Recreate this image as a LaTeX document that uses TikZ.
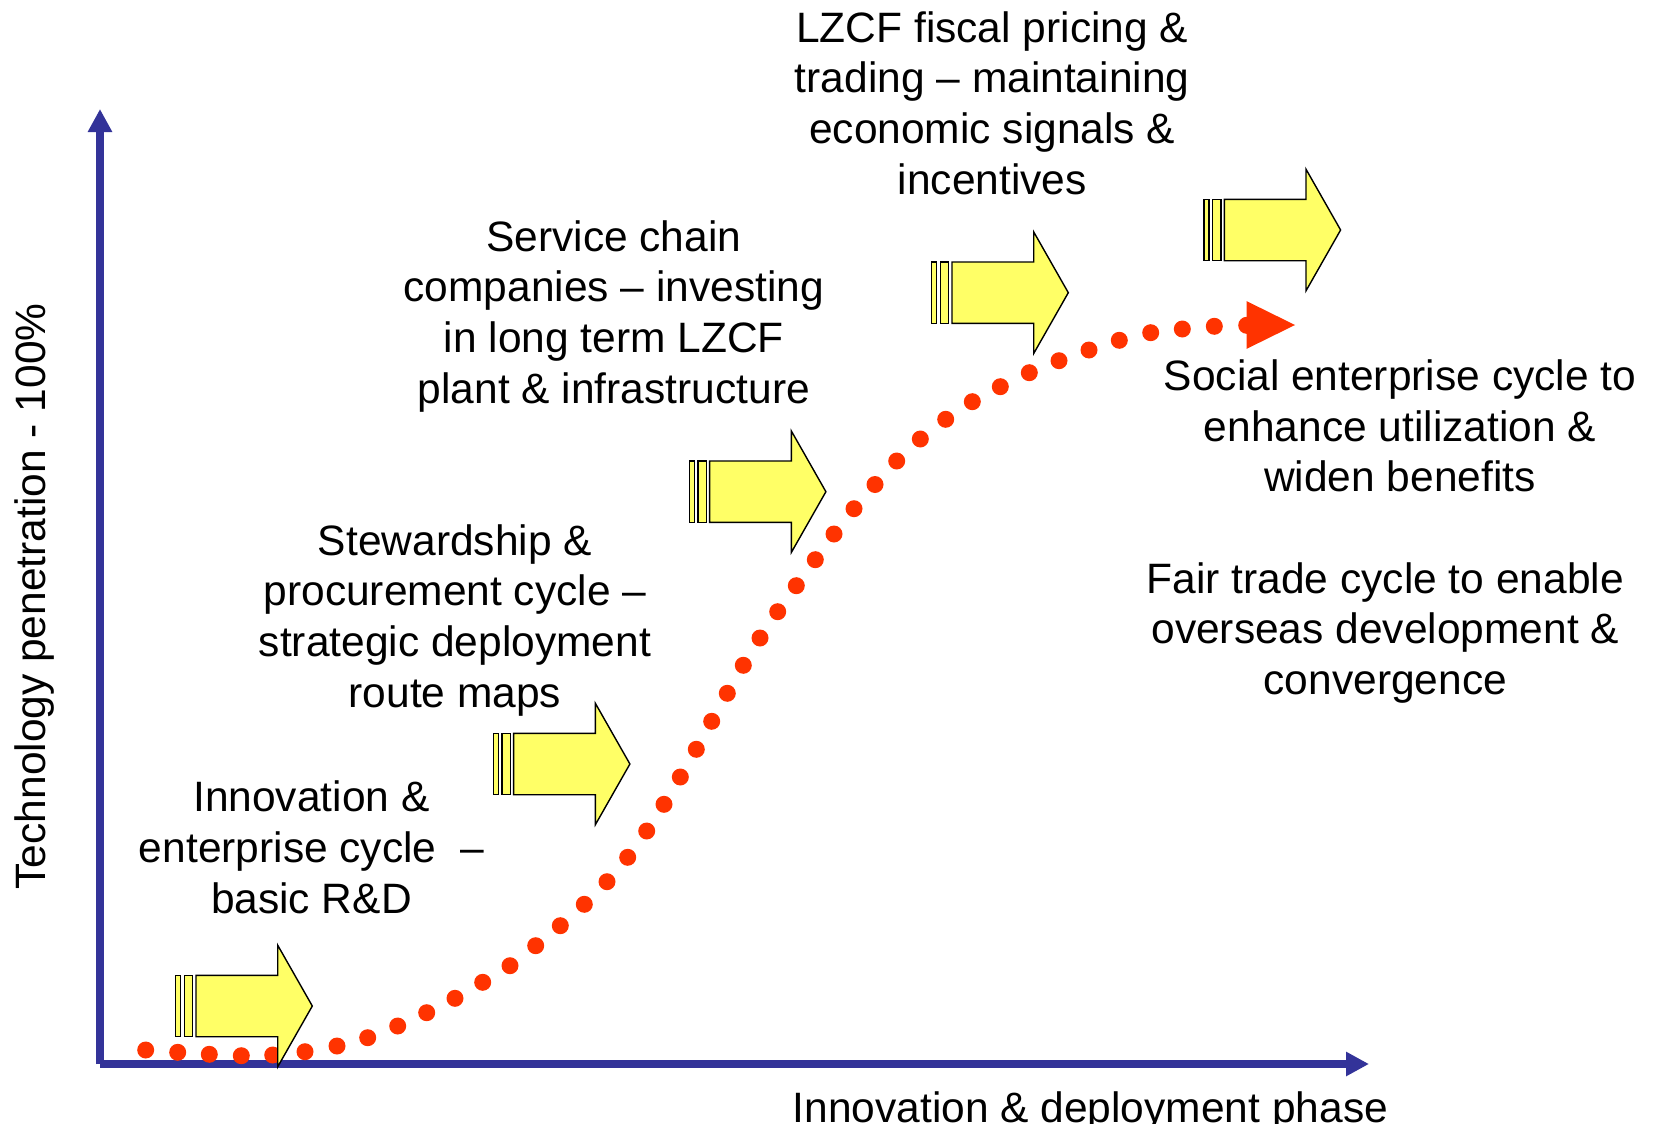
\documentclass[tikz,border=0pt]{standalone}
\usepackage{fontspec}
\setmainfont{Liberation Sans}
\usetikzlibrary{arrows.meta}
\definecolor{axisblue}{RGB}{51,51,153}
\definecolor{dotred}{RGB}{255,51,0}
\definecolor{arrowyellow}{RGB}{255,255,102}
\tikzset{
  axisline/.style={draw=axisblue, line width=8pt, -{Triangle[width=23pt,length=23pt]}},
  label/.style={font=\fontsize{42.5}{50.7}\selectfont, align=center, anchor=base, inner sep=0pt},
  yarrowshape/.style={draw=black, fill=arrowyellow, line width=1.4pt, line join=miter},
  yarrow/.pic={
    \path[yarrowshape] (0,-30.7) rectangle (5,30.7);
    \path[yarrowshape] (8.6,-30.7) rectangle (17,30.7);
    \path[yarrowshape] (20.3,-30.7) -- (102,-30.7) -- (102,-60.8) -- (136.6,0)
       -- (102,60.8) -- (102,30.7) -- (20.3,30.7) -- cycle;
  },
  reddot/.style={fill=dotred, draw=none}
}
\begin{document}
\begin{tikzpicture}[x=1pt, y=-1pt]
\useasboundingbox (0,0) rectangle (1655,1124);
\fill[white] (0,0) rectangle (1655,1124);

% axes
\coordinate (origin) at (100,1064);
\coordinate (ytop) at (100,109);
\coordinate (xend) at (1369,1064);
\draw[axisline] (origin) -- (ytop);
\draw[axisline] (origin) -- (xend);

% dotted S-curve
\foreach \px/\py in {145.7/1050,177.7/1052.3,209.3/1054.3,241.3/1055.7,272.7/1055,305/1051.7,337/1046,367.7/1037.7,397.7/1026,426.7/1012.7,455/998.3,482.7/982.3,510/965.7,535.7/945.7,560.3/925.7,584.3/904.3,607/881.7,627.7/857.3,646.7/831,664/804.3,680.3/777,696.3/749.3,711.7/721.3,727.3/693.3,743.3/665.3,760/638,777.7/611.7,796.3/585.7,815.3/559.7,834/534,854/508.7,875/484.5,896.7/461,920.3/439,945.7/419.3,972.3/401.7,1000.3/386.7,1029.3/372.7,1059/360.7,1089/350,1119.3/340.3,1150.7/332.7,1182.3/329,1214.3/326.3,1246.7/325.3}
  \fill[reddot] (\px,\py) circle (8.5);
\coordinate (curveend) at (1246.7,325);
\fill[reddot] (curveend) ++(0,-23.8) -- ++(48.3,23.8) -- ++(-48.3,23.8) -- cycle;

% yellow arrows
\pic (a1) at (175.7,1006) {yarrow};
\pic (a2) at (493.3,764) {yarrow};
\pic (a3) at (689.3,491.7) {yarrow};
\pic (a4) at (931.7,292.7) {yarrow};
\pic (a5) at (1204,230) {yarrow};

% labels (base anchor = baseline of the last line)
\node[label] (t1) at (311.4,913) {Innovation \&\\enterprise cycle\ \ –\\basic R\&D};
\node[label] (t2) at (455,707.3) {Stewardship \&\\procurement cycle –\\strategic deployment\\route maps};
\node[label] (t3) at (613.8,403.3) {Service chain\\companies – investing\\in long term LZCF\\plant \& infrastructure};
\node[label] (t4) at (992.2,194.3) {LZCF fiscal pricing \&\\trading – maintaining\\economic signals \&\\incentives};
\node[label] (t5) at (1400,491.9) {Social enterprise cycle to\\enhance utilization \&\\widen benefits};
\node[label] (t6) at (1385.3,694.6) {Fair trade cycle to enable\\overseas development \&\\convergence};
\node[label] (xlab) at (1090.3,1122.5) {Innovation \& deployment phase};
\node[label, rotate=90] (ylab) at (45,596.4) {Technology penetration - 100\%};
\end{tikzpicture}
\end{document}
